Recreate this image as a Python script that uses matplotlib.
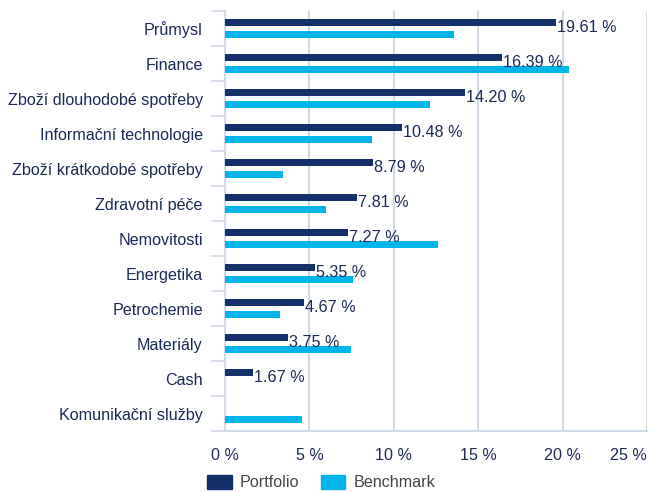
import matplotlib.pyplot as plt
from matplotlib.patches import Patch

# Sector weights (%)
sectors = ["Průmysl", "Finance", "Zboží dlouhodobé spotřeby", "Informační technologie",
           "Zboží krátkodobé spotřeby", "Zdravotní péče", "Nemovitosti", "Energetika",
           "Petrochemie", "Materiály", "Cash", "Komunikační služby"]
portfolio = [19.61, 16.39, 14.20, 10.48, 8.79, 7.81, 7.27, 5.35, 4.67, 3.75, 1.67, 0.0]
benchmark = [13.57, 20.40, 12.14, 8.71, 3.42, 5.98, 12.64, 7.58, 3.26, 7.45, 0.0, 4.54]
portfolio_labels = ["19.61 %", "16.39 %", "14.20 %", "10.48 %", "8.79 %", "7.81 %",
                    "7.27 %", "5.35 %", "4.67 %", "3.75 %", "1.67 %", ""]
xticks = [0, 5, 10, 15, 20, 25]

navy = "#13306b"
cyan = "#00b5e9"
grid = "#d0d9e8"
text_col = "#1a2a58"
fs = 11.6

plt.rcParams['font.family'] = ['Liberation Sans', 'DejaVu Sans']

fig = plt.figure(figsize=(6.48, 4.92), dpi=100)
ax = fig.add_axes([225 / 648, 1 - 431 / 492, 422 / 648, 420 / 492])

pos = list(range(len(sectors)))
ax.barh([p - 0.165 for p in pos], portfolio, height=0.21, color=navy, zorder=3)
ax.barh([p + 0.165 for p in pos], benchmark, height=0.21, color=cyan, zorder=3)

for p, v, lab in zip(pos, portfolio, portfolio_labels):
    if lab:
        ax.text(v + 0.05, p + 0.105, lab, va="baseline", ha="left",
                fontsize=fs, color=text_col, zorder=4)

ax.set_xlim(0, 25)
ax.set_ylim(len(sectors) - 0.5, -0.5)
ax.set_xticks(xticks)
ax.set_xticklabels([f"{t} %" for t in xticks])
ax.get_xticklabels()[-1].set_ha("right")
ax.set_yticks(pos)
ax.set_yticklabels(sectors)
ax.set_yticks([p - 0.5 for p in pos] + [len(sectors) - 0.5], minor=True)

ax.tick_params(axis="x", length=0, pad=12, labelsize=fs, labelcolor=text_col)
ax.tick_params(axis="y", which="major", length=0, pad=16, labelsize=fs, labelcolor=text_col)
ax.tick_params(axis="y", which="minor", length=10, width=1.2, color=grid, direction="out")

ax.grid(axis="x", color=grid, linewidth=1.5, zorder=0)
for s in ["top", "right"]:
    ax.spines[s].set_visible(False)
for s in ["left", "bottom"]:
    ax.spines[s].set_color(grid)
    ax.spines[s].set_linewidth(1.5)

handles = [Patch(color=navy, label="Portfolio"), Patch(color=cyan, label="Benchmark")]
leg = fig.legend(handles=handles, loc="lower left", bbox_to_anchor=(201 / 648, -0.01),
                 ncol=2, frameon=False, fontsize=fs, handlelength=1.5, handleheight=0.95,
                 handletextpad=0.5, columnspacing=1.35, borderaxespad=0)
for t in leg.get_texts():
    t.set_color("#454545")

fig.savefig("out.png", dpi=100)
